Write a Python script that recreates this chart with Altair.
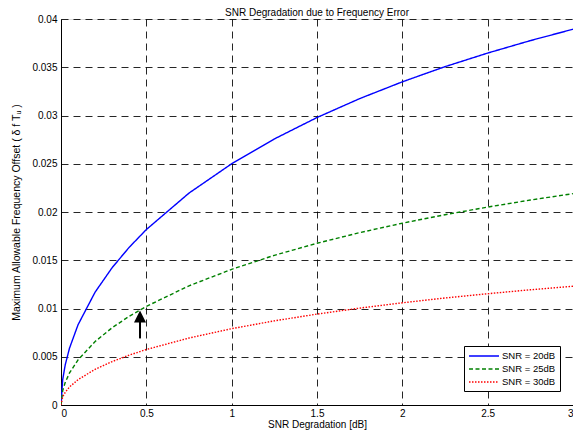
import altair as alt
import pandas as pd

# SNR degradation [dB] (x) and maximum allowable frequency offset (y)
degradation = [0, 0.01, 0.025, 0.05, 0.1, 0.2, 0.3, 0.4, 0.5, 0.75, 1, 1.25, 1.5, 1.75, 2, 2.25, 2.5, 2.75, 3]
snr20 = [0, 0.00264, 0.00418, 0.0059, 0.00832, 0.0117, 0.01424, 0.01635, 0.01818, 0.02196, 0.025,
         0.02757, 0.02979, 0.03175, 0.03349, 0.03506, 0.03647, 0.03776, 0.03894]
snr25 = [0, 0.00149, 0.00235, 0.00332, 0.00468, 0.00658, 0.00801, 0.0092, 0.01022, 0.01235, 0.01406,
         0.01551, 0.01676, 0.01786, 0.01884, 0.01972, 0.02051, 0.02124, 0.0219]
snr30 = [0, 0.00084, 0.00132, 0.00187, 0.00263, 0.0037, 0.0045, 0.00517, 0.00575, 0.00694, 0.00791,
         0.00872, 0.00942, 0.01004, 0.01059, 0.01109, 0.01153, 0.01194, 0.01231]
series_names = ["SNR = 20dB", "SNR = 25dB", "SNR = 30dB"]
series_colors = ["#0000FF", "#008000", "#FF0000"]
series_dashes = [[1, 0], [4, 2.5], [1.5, 1.5]]

x_ticks = [0, 0.5, 1, 1.5, 2, 2.5, 3]
y_ticks = [0, 0.005, 0.01, 0.015, 0.02, 0.025, 0.03, 0.035, 0.04]

# arrow annotation (data coordinates)
arrow_x = [0.463]
arrow_tail = [0.0069]
arrow_head_base = [0.0087]
arrow_tip = [0.0098]

rows = []
for name, vals in zip(series_names, [snr20, snr25, snr30]):
    for xv, yv in zip(degradation, vals):
        rows.append({"series": name, "x": xv, "y": yv})
df = pd.DataFrame(rows)

FONT = "Liberation Sans"

xscale = alt.Scale(domain=[0, 3], nice=False)
yscale = alt.Scale(domain=[0, 0.04], nice=False)

xaxis = alt.Axis(values=x_ticks, format="~g", title="SNR Degradation [dB]", grid=True,
                 gridColor="black", gridDash=[7, 5], gridOpacity=0.85, ticks=False,
                 labelPadding=3, titleY=22, titleBaseline="alphabetic", domainColor="black",
                 labelFont=FONT, titleFont=FONT, labelFontSize=10, titleFontSize=10,
                 titleFontWeight="normal", labelColor="black", titleColor="black")
yaxis = alt.Axis(values=y_ticks, format="~g",
                 title="Maximum Allowable Frequency Offset (  \u03b4 f  T\u1d64  )", grid=True,
                 gridColor="black", gridDash=[7, 5], gridOpacity=0.85, ticks=False,
                 labelPadding=4, titlePadding=10, domainColor="black",
                 labelFont=FONT, titleFont=FONT, labelFontSize=10, titleFontSize=10.5,
                 titleFontWeight="normal", labelColor="black", titleColor="black")

legend = alt.Legend(title=None, orient="none", legendX=403, legendY=327,
                    strokeColor="black", fillColor="white", padding=4,
                    symbolType="M-1,0L5,0", symbolSize=100, symbolStrokeWidth=1.5,
                    labelFont=FONT, labelFontSize=9.5, labelColor="black",
                    rowPadding=2, labelOffset=22)

lines = alt.Chart(df).mark_line(strokeWidth=1.4, clip=True).encode(
    x=alt.X("x:Q", scale=xscale, axis=xaxis),
    y=alt.Y("y:Q", scale=yscale, axis=yaxis),
    color=alt.Color("series:N", scale=alt.Scale(domain=series_names, range=series_colors),
                    legend=legend),
    strokeDash=alt.StrokeDash("series:N", scale=alt.Scale(domain=series_names, range=series_dashes),
                              legend=legend),
)

arrow_df = pd.DataFrame({"x": arrow_x, "y1": arrow_tail, "y2": arrow_head_base, "tip": arrow_tip})
shaft = alt.Chart(arrow_df).mark_rule(color="black", strokeWidth=2).encode(
    x=alt.X("x:Q", scale=xscale), y=alt.Y("y1:Q", scale=yscale), y2="y2:Q")
head = alt.Chart(arrow_df).mark_point(shape="M0,0L1,2L-1,2Z", filled=True, color="black",
                                      size=144, opacity=1).encode(
    x=alt.X("x:Q", scale=xscale), y=alt.Y("tip:Q", scale=yscale))

chart = alt.layer(lines, shaft, head).properties(
    width=512, height=386,
    title=alt.TitleParams("SNR Degradation due to Frequency Error", font=FONT, fontSize=10,
                          fontWeight="normal", color="black", offset=2, dy=6),
    autosize=alt.AutoSizeParams(type="none"),
    padding={"left": 53, "top": 11, "right": 0, "bottom": 25},
).configure_view(stroke=None).configure(background="white")

chart.save("out.html", embed_options={"renderer": "svg", "actions": False})
